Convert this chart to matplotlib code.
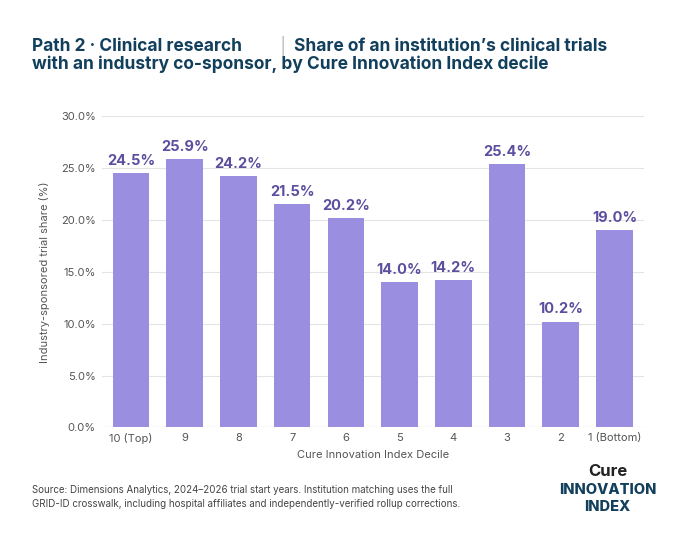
import matplotlib.pyplot as plt
from matplotlib.ticker import FuncFormatter

plt.rcParams['font.family'] = ['Inter', 'DejaVu Sans']

deciles = ['10 (Top)', '9', '8', '7', '6', '5', '4', '3', '2', '1 (Bottom)']
shares = [24.5, 25.9, 24.2, 21.5, 20.2, 14.0, 14.2, 25.4, 10.2, 19.0]

teal = '#123f5c'
bar_c = '#9a8ee0'
lab_c = '#5b4f9e'
grey = '#555555'

fig = plt.figure(figsize=(7.0, 5.41), dpi=100)
ax = fig.add_axes([0.145, 0.21, 0.775, 0.575])

ax.bar(range(len(deciles)), shares, width=0.68, color=bar_c, zorder=2)
for i, v in enumerate(shares):
    ax.text(i, v + 0.5, f'{v:.1f}%', ha='center', va='bottom', fontsize=10.5,
            fontweight='bold', color=lab_c)

ax.set_ylim(0, 30)
ax.set_yticks([0, 5, 10, 15, 20, 25, 30])
ax.yaxis.set_major_formatter(FuncFormatter(lambda v, p: f'{v:.1f}%'))
ax.set_xticks(range(len(deciles)))
ax.set_xticklabels(deciles)
ax.set_xlim(-0.55, 9.55)
ax.tick_params(axis='both', length=0, labelsize=8, colors=grey, pad=4)
ax.grid(axis='y', color='#e4e4e4', linewidth=0.8, zorder=0)
for s in ax.spines.values():
    s.set_visible(False)
ax.axhline(0, color='#cccccc', linewidth=0.8, zorder=3)
ax.set_ylabel('Industry-sponsored trial share (%)', fontsize=8, color=grey, labelpad=8)
ax.set_xlabel('Cure Innovation Index Decile', fontsize=8, color=grey, labelpad=4)

fig.text(0.045, 0.905, 'Path 2 · Clinical research', fontsize=12.5, fontweight='bold', color=teal)
fig.text(0.396, 0.905, '│', fontsize=12.5, color='#bbbbbb')
fig.text(0.42, 0.905, 'Share of an institution\u2019s clinical trials', fontsize=12.5,
         fontweight='bold', color=teal)
fig.text(0.045, 0.865, 'with an industry co-sponsor, by Cure Innovation Index decile',
         fontsize=12.5, fontweight='bold', color=teal, va='bottom')

fig.text(0.045, 0.082, 'Source: Dimensions Analytics, 2024\u20132026 trial start years. Institution matching uses the full\n'
         'GRID-ID crosswalk, including hospital affiliates and independently-verified rollup corrections.',
         fontsize=7, color='#444444', linespacing=1.5, va='center')

fig.text(0.868, 0.12, 'Cure', fontsize=12, fontweight='bold', color='#222222', ha='center')
fig.text(0.868, 0.087, 'INNOVATION', fontsize=10.5, fontweight='heavy', color=teal, ha='center')
fig.text(0.868, 0.055, 'INDEX', fontsize=10.5, fontweight='heavy', color=teal, ha='center')

fig.savefig('out.png', dpi=100, facecolor='white')
